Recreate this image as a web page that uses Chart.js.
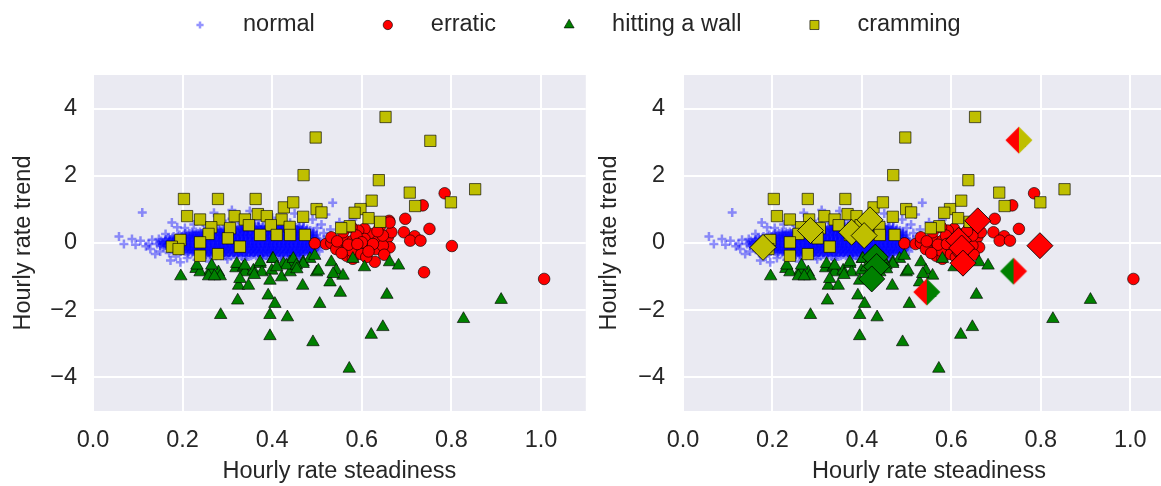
<!DOCTYPE html>
<html><head><meta charset="utf-8">
<script src="https://cdn.jsdelivr.net/npm/chart.js@4/dist/chart.umd.min.js"></script>
<style>
html,body{margin:0;padding:0;background:#fff;overflow:hidden;width:1161px;height:486px;}
#wrap{position:relative;width:1161px;height:486px;overflow:hidden;}
#c1{position:absolute;left:0;top:0;}
#c2{position:absolute;left:590px;top:0;}
</style></head><body>
<div id="wrap"><canvas id="c1" width="1161" height="486"></canvas><canvas id="c2" width="600" height="486"></canvas></div>
<script>
const seriesNames = ['normal', 'erratic', 'hitting a wall', 'cramming'];
const xTickValues = [0, 0.2, 0.4, 0.6, 0.8, 1.0];
const xTickLabels = ['0.0', '0.2', '0.4', '0.6', '0.8', '1.0'];
const yTickValues = [-4, -2, 0, 2, 4];
const yTickLabels = ['\u22124', '\u22122', '0', '2', '4'];
const xLabel = 'Hourly rate steadiness';
const yLabel = 'Hourly rate trend';

// "normal" dense band: one y level per row, with the x values read along it
const normalBandY = [0.50, 0.46, 0.42, 0.375, 0.33, 0.285, 0.24, 0.195, 0.15, 0.105, 0.06, 0.015, -0.03, -0.075, -0.12, -0.165, -0.21, -0.255, -0.30, -0.34, -0.38];
const normalBandX = [
  [0.331,0.342,0.350,0.361,0.369,0.380,0.389,0.398,0.410,0.418,0.429,0.437,0.448,0.459],
  [0.306,0.316,0.325,0.333,0.341,0.352,0.360,0.371,0.378,0.388,0.396,0.406,0.415,0.424,0.433,0.443,0.452,0.462,0.470],
  [0.281,0.290,0.301,0.309,0.318,0.329,0.337,0.346,0.357,0.365,0.374,0.385,0.393,0.402,0.413,0.421,0.430,0.441,0.449,0.458,0.469,0.478],
  [0.248,0.257,0.265,0.275,0.284,0.293,0.303,0.311,0.320,0.330,0.338,0.347,0.357,0.366,0.375,0.384,0.394,0.403,0.411,0.421,0.430,0.439,0.448,0.457,0.466,0.476,0.485],
  [0.221,0.230,0.239,0.250,0.258,0.267,0.278,0.286,0.295,0.306,0.314,0.323,0.334,0.342,0.351,0.362,0.370,0.379,0.390,0.398,0.407,0.418,0.426,0.435,0.446,0.454,0.463,0.474,0.482,0.491],
  [0.206,0.215,0.224,0.234,0.243,0.252,0.262,0.270,0.280,0.289,0.298,0.307,0.316,0.326,0.335,0.344,0.353,0.362,0.372,0.381,0.390,0.399,0.408,0.418,0.427,0.436,0.445,0.455,0.464,0.473,0.483,0.492],
  [0.193,0.202,0.210,0.221,0.229,0.238,0.247,0.256,0.266,0.274,0.283,0.292,0.301,0.311,0.319,0.328,0.337,0.346,0.356,0.364,0.373,0.382,0.391,0.401,0.409,0.418,0.427,0.436,0.446,0.454,0.463,0.472,0.481,0.491,0.499],
  [0.180,0.189,0.198,0.207,0.216,0.226,0.235,0.244,0.253,0.262,0.272,0.281,0.290,0.299,0.309,0.318,0.327,0.336,0.345,0.355,0.364,0.373,0.382,0.392,0.401,0.410,0.419,0.428,0.438,0.447,0.456,0.466,0.475,0.484,0.494],
  [0.168,0.177,0.186,0.196,0.205,0.214,0.223,0.232,0.242,0.251,0.260,0.269,0.278,0.288,0.297,0.306,0.315,0.324,0.334,0.343,0.352,0.361,0.370,0.380,0.389,0.398,0.407,0.416,0.426,0.435,0.444,0.453,0.462,0.472,0.481,0.490,0.500],
  [0.163,0.172,0.182,0.191,0.200,0.210,0.219,0.228,0.237,0.247,0.256,0.265,0.274,0.284,0.293,0.302,0.311,0.321,0.330,0.339,0.348,0.358,0.367,0.376,0.385,0.395,0.404,0.413,0.422,0.432,0.441,0.450,0.459,0.469,0.478,0.487,0.497],
  [0.152,0.161,0.171,0.180,0.189,0.199,0.208,0.217,0.226,0.236,0.245,0.254,0.263,0.273,0.282,0.291,0.300,0.310,0.319,0.328,0.337,0.347,0.356,0.365,0.374,0.384,0.393,0.402,0.411,0.421,0.430,0.439,0.448,0.458,0.467,0.476,0.485,0.495,0.503],
  [0.148,0.158,0.169,0.178,0.187,0.197,0.206,0.215,0.225,0.234,0.243,0.252,0.262,0.271,0.280,0.289,0.299,0.308,0.317,0.326,0.336,0.345,0.354,0.363,0.373,0.382,0.391,0.400,0.410,0.419,0.428,0.437,0.447,0.456,0.465,0.474,0.484,0.493,0.502],
  [0.143,0.155,0.165,0.174,0.183,0.193,0.202,0.211,0.220,0.230,0.239,0.248,0.257,0.267,0.276,0.285,0.294,0.304,0.313,0.322,0.331,0.341,0.350,0.359,0.368,0.378,0.387,0.396,0.405,0.415,0.424,0.433,0.442,0.452,0.461,0.470,0.479,0.489,0.498],
  [0.150,0.160,0.170,0.179,0.188,0.198,0.207,0.216,0.225,0.235,0.244,0.253,0.262,0.272,0.281,0.290,0.299,0.309,0.318,0.327,0.336,0.346,0.355,0.364,0.373,0.383,0.392,0.401,0.410,0.420,0.429,0.438,0.447,0.457,0.466,0.475,0.484,0.494],
  [0.157,0.167,0.176,0.186,0.195,0.204,0.213,0.223,0.232,0.241,0.250,0.260,0.269,0.278,0.287,0.297,0.306,0.315,0.324,0.334,0.343,0.352,0.361,0.371,0.380,0.389,0.398,0.408,0.417,0.426,0.435,0.445,0.454,0.463,0.472,0.482,0.491,0.500],
  [0.171,0.181,0.190,0.200,0.209,0.218,0.227,0.237,0.246,0.255,0.264,0.274,0.283,0.292,0.301,0.311,0.320,0.329,0.338,0.348,0.357,0.366,0.375,0.385,0.394,0.403,0.412,0.422,0.431,0.440,0.449,0.459,0.468,0.477,0.486,0.496],
  [0.181,0.190,0.199,0.209,0.218,0.227,0.236,0.246,0.255,0.264,0.273,0.283,0.292,0.301,0.310,0.320,0.329,0.338,0.347,0.357,0.366,0.375,0.384,0.394,0.403,0.412,0.421,0.431,0.440,0.449,0.458,0.468,0.477,0.486,0.495],
  [0.196,0.205,0.214,0.223,0.232,0.242,0.251,0.260,0.269,0.279,0.288,0.297,0.306,0.316,0.325,0.334,0.343,0.353,0.362,0.371,0.380,0.390,0.399,0.408,0.417,0.427,0.436,0.445,0.454,0.464,0.473,0.482,0.491],
  [0.212,0.221,0.231,0.240,0.249,0.258,0.268,0.277,0.286,0.295,0.305,0.314,0.323,0.332,0.342,0.351,0.360,0.369,0.379,0.388,0.397,0.406,0.416,0.425,0.434,0.443,0.453,0.462,0.471,0.480,0.489],
  [0.232,0.242,0.252,0.262,0.271,0.281,0.292,0.303,0.314,0.325,0.336,0.347,0.358,0.370,0.381,0.392,0.403,0.414,0.425,0.436,0.447,0.458,0.469],
  [0.253,0.264,0.275,0.286,0.297,0.309,0.320,0.331,0.342,0.353,0.364,0.376,0.387,0.398,0.409,0.420,0.431,0.442,0.453,0.462]
];
// "normal" sparse points around the band
const normalSparse = [
  [0.058,0.19],[0.069,-0.03],[0.087,0.12],[0.095,-0.05],[0.106,0.07],[0.110,0.91],[0.118,-0.10],[0.124,-0.03],
  [0.128,-0.18],[0.132,0.10],[0.139,-0.33],[0.147,0.12],[0.150,-0.25],[0.162,0.27],[0.170,-0.30],[0.173,-0.52],
  [0.176,0.61],[0.188,0.47],[0.185,-0.40],[0.195,-0.57],[0.205,0.45],[0.210,-0.45],[0.225,0.55],[0.232,-0.50],
  [0.245,0.62],[0.260,-0.55],[0.275,0.58],[0.290,0.66],[0.310,0.72],[0.330,0.62],[0.350,0.95],[0.370,0.68],
  [0.400,0.75],[0.420,0.62],[0.450,0.88],[0.470,0.65],[0.490,0.70],[0.500,0.45],[0.510,0.55],[0.520,0.85],
  [0.530,0.40],[0.500,1.05],[0.535,1.20],[0.515,0.30],[0.360,0.58],[0.440,0.60],[0.270,0.90],[0.310,0.98],
  [0.300,-0.48],[0.340,-0.50],[0.380,-0.47],[0.420,-0.50],[0.460,-0.45],[0.490,-0.38],[0.505,-0.25],[0.510,-0.10],
  [0.515,0.10],[0.550,0.62],[0.580,0.70]
];
const erratic = [
  [0.785,1.48],[0.736,1.12],[0.697,0.72],[0.751,0.42],[0.694,0.32],[0.718,0.20],[0.708,0.07],[0.731,0.07],
  [0.801,-0.09],[0.661,0.66],[0.629,-0.56],[0.739,-0.87],[1.007,-1.07],
  [0.495,-0.01],[0.520,-0.03],[0.532,0.00],[0.551,-0.13],[0.562,0.07],[0.580,0.07],[0.595,-0.13],[0.618,0.27],
  [0.606,0.42],[0.592,0.37],[0.636,0.07],[0.658,0.17],[0.662,-0.13],[0.618,-0.11],[0.640,0.47],[0.577,0.47],
  [0.558,0.32],[0.606,0.12],[0.566,-0.38],[0.580,-0.47],[0.543,-0.18],[0.577,-0.23],[0.599,-0.33],[0.632,-0.18],
  [0.647,-0.08],[0.666,0.32],[0.662,0.61],[0.532,0.17],[0.625,-0.03],[0.588,0.22],[0.647,0.22],[0.610,-0.42],
  [0.650,-0.35],[0.545,0.05],[0.570,-0.05],[0.600,0.02],[0.615,-0.25],[0.635,0.35],[0.590,-0.03],[0.555,-0.30]
];
const hittingWall = [
  [0.196,-0.99],[0.230,-0.77],[0.239,-0.87],[0.262,-0.82],[0.258,-0.99],[0.280,-0.87],[0.284,-0.99],[0.271,-0.99],
  [0.285,-2.14],[0.319,-0.75],[0.336,-0.72],[0.339,-0.87],[0.325,-1.27],[0.328,-1.07],[0.347,-1.27],[0.323,-1.71],
  [0.358,-0.82],[0.373,-0.62],[0.377,-0.87],[0.399,-0.82],[0.395,-1.12],[0.391,-1.56],[0.406,-1.81],[0.395,-2.14],
  [0.434,-2.21],[0.395,-2.77],[0.401,-0.47],[0.421,-1.02],[0.425,-0.62],[0.440,-0.57],[0.440,-0.87],[0.468,-1.27],
  [0.469,-0.57],[0.484,-0.47],[0.499,-0.87],[0.506,-1.81],[0.491,-2.95],[0.529,-1.17],[0.532,-0.57],[0.543,-0.82],
  [0.558,-0.97],[0.552,-1.48],[0.580,-0.47],[0.606,-0.72],[0.662,-0.57],[0.682,-0.67],[0.656,-1.54],[0.621,-2.73],
  [0.647,-2.50],[0.572,-3.74],[0.827,-2.26],[0.911,-1.69],[0.232,-0.67],[0.265,-0.67],[0.321,-0.62],[0.339,-0.67],
  [0.373,-0.57],[0.402,-0.47],[0.432,-0.67],[0.447,-0.47],[0.495,-0.38],[0.469,-0.62],[0.454,-0.67],[0.536,-0.92],
  [0.503,-0.82],[0.360,-0.95],[0.410,-0.72],[0.455,-0.78]
];
const cramming = [
  [0.497,3.14],[0.470,2.02],[0.653,3.75],[0.753,3.04],[0.638,1.87],[0.707,1.50],[0.853,1.60],[0.799,1.21],
  [0.719,1.10],[0.622,1.26],[0.597,1.01],[0.584,0.90],[0.615,0.74],[0.641,0.63],[0.573,0.50],[0.554,0.44],
  [0.203,1.31],[0.279,1.31],[0.363,1.31],[0.210,0.80],[0.239,0.70],[0.282,0.70],[0.316,0.80],[0.339,0.70],
  [0.368,0.86],[0.388,0.80],[0.421,0.70],[0.426,1.06],[0.447,1.21],[0.264,0.47],[0.306,0.44],[0.348,0.53],
  [0.397,0.53],[0.439,0.48],[0.258,0.27],[0.301,0.14],[0.373,0.24],[0.410,0.24],[0.440,0.24],[0.195,0.09],
  [0.239,0.02],[0.328,-0.11],[0.176,-0.11],[0.191,-0.18],[0.239,-0.38],[0.279,-0.33],[0.499,1.01],[0.510,0.91],
  [0.469,0.78],[0.473,0.24]
];
// right panel only: large centroid diamonds
const centroidYellow = [[0.179,-0.13],[0.285,0.37],[0.377,0.32],[0.418,0.69],[0.405,0.22]];
const centroidRed = [[0.659,0.66],[0.616,0.08],[0.623,-0.15],[0.626,-0.60],[0.798,-0.08]];
const centroidGreen = [[0.430,-0.42],[0.433,-0.70],[0.422,-1.07]];
const splitRedYellow = [[0.751,3.06]];
const splitRedGreen = [[0.545,-1.46]];
const splitGreenRed = [[0.739,-0.84]];

const FAMILY = "'Liberation Sans', Arial, sans-serif";
const FS = 23.5;
const TEXT = '#262626';
const BLUE = 'rgba(0,0,255,0.42)';
const RED = '#ff0000', GREEN = '#008000', YELLOW = '#bfbf00';
const EDGE = 'rgba(0,0,0,0.8)';

Chart.defaults.font.family = FAMILY;
Chart.defaults.font.size = FS;
Chart.defaults.color = TEXT;

const toXY = arr => arr.map(p => ({x: p[0], y: p[1]}));
const normalAll = [];
normalBandY.forEach((y, i) => normalBandX[i].forEach(x => normalAll.push([x, y])));
normalSparse.forEach(p => normalAll.push(p));

function splitDiamond(cl, cr) {
  const s = 30, c = s / 2, h = 13.5;
  const cv = document.createElement('canvas'); cv.width = s; cv.height = s;
  const g = cv.getContext('2d');
  g.fillStyle = cl; g.beginPath(); g.moveTo(c - h, c); g.lineTo(c, c - h); g.lineTo(c, c + h); g.closePath(); g.fill();
  g.fillStyle = cr; g.beginPath(); g.moveTo(c, c - h); g.lineTo(c + h, c); g.lineTo(c, c + h); g.closePath(); g.fill();
  return cv;
}

const styles = [
  {pointStyle: 'cross', pointRadius: 4.5, pointBackgroundColor: BLUE, pointBorderColor: BLUE, pointBorderWidth: 2.5},
  {pointStyle: 'circle', pointRadius: 5.8, pointBackgroundColor: RED, pointBorderColor: EDGE, pointBorderWidth: 0.8},
  {pointStyle: 'triangle', pointRadius: 7.2, pointBackgroundColor: GREEN, pointBorderColor: EDGE, pointBorderWidth: 0.8},
  {pointStyle: 'rect', pointRadius: 8, pointBackgroundColor: YELLOW, pointBorderColor: EDGE, pointBorderWidth: 0.8}
];

function baseDatasets() {
  const data = [normalAll, erratic, hittingWall, cramming];
  return data.map((d, i) => Object.assign({label: seriesNames[i], data: toXY(d), order: 10 - i,
    pointHoverRadius: styles[i].pointRadius}, styles[i]));
}

function diamond(d, color, order) {
  return {label: '', data: toXY(d), pointStyle: 'rectRot', pointRadius: 13, pointHoverRadius: 13,
    pointBackgroundColor: color, pointBorderColor: 'rgba(0,0,0,0.85)', pointBorderWidth: 1, order};
}
function split(d, cl, cr) {
  return {label: '', data: toXY(d), pointStyle: splitDiamond(cl, cr), pointRadius: 14, order: 0};
}

const bgPlugin = {
  id: 'bg',
  beforeDraw(chart) {
    const {ctx, chartArea: a} = chart;
    ctx.save(); ctx.fillStyle = '#EAEAF2';
    ctx.fillRect(a.left, a.top, a.right - a.left, a.bottom - a.top);
    ctx.restore();
  }
};

const legendPlugin = {
  id: 'topLegend',
  afterDraw(chart) {
    const ctx = chart.ctx;
    ctx.save();
    let x = 200; const y = 25;
    seriesNames.forEach((name, i) => {
      const st = styles[i];
      ctx.fillStyle = st.pointBackgroundColor; ctx.strokeStyle = st.pointBorderColor; ctx.lineWidth = st.pointBorderWidth;
      Chart.helpers.drawPoint(ctx, {pointStyle: st.pointStyle, radius: st.pointRadius * 0.8, borderWidth: st.pointBorderWidth, rotation: 0}, x, y);
      ctx.font = FS + 'px ' + FAMILY;
      ctx.fillStyle = TEXT; ctx.textBaseline = 'middle'; ctx.textAlign = 'left';
      ctx.fillText(name, x + 43, y);
      x = x + 43 + ctx.measureText(name).width + 73;
    });
    ctx.restore();
  }
};

function makeOptions(canvasW, yTitlePad, yTickPad) {
  return {
    responsive: false, animation: false, devicePixelRatio: 1, events: [],
    layout: {padding: {left: 0, top: 75, right: canvasW - 585.8, bottom: 0}},
    plugins: {legend: {display: false}, tooltip: {enabled: false}},
    scales: {
      x: {
        type: 'linear', min: 0, max: 1.1,
        afterBuildTicks: ax => { ax.ticks = xTickValues.map(v => ({value: v})); },
        afterFit: s => { s.height = 75; },
        ticks: {callback: v => xTickLabels[xTickValues.indexOf(v)], padding: 15, color: TEXT, maxRotation: 0, autoSkip: false},
        grid: {color: '#ffffff', lineWidth: 2, drawTicks: false},
        border: {display: false},
        title: {display: true, text: xLabel, color: TEXT, padding: {top: 0, bottom: 0}}
      },
      y: {
        type: 'linear', min: -5, max: 5,
        afterBuildTicks: ax => { ax.ticks = yTickValues.map(v => ({value: v})); },
        afterFit: s => { s.width = 93; },
        ticks: {callback: v => yTickLabels[yTickValues.indexOf(v)], padding: yTickPad, color: TEXT, autoSkip: false},
        grid: {color: '#ffffff', lineWidth: 2, drawTicks: false},
        border: {display: false},
        title: {display: true, text: yLabel, color: TEXT, padding: {top: yTitlePad, bottom: 0}}
      }
    }
  };
}

new Chart(document.getElementById('c1'), {
  type: 'scatter',
  data: {datasets: baseDatasets()},
  options: makeOptions(1161, 9, 16),
  plugins: [bgPlugin, legendPlugin]
});

const rightSets = baseDatasets().concat([
  diamond(centroidYellow, YELLOW, 1),
  diamond(centroidRed, RED, 1),
  diamond(centroidGreen, GREEN, 1),
  split(splitRedYellow, RED, YELLOW),
  split(splitRedGreen, RED, GREEN),
  split(splitGreenRed, GREEN, RED)
]);
new Chart(document.getElementById('c2'), {
  type: 'scatter',
  data: {datasets: rightSets},
  options: makeOptions(600, 5, 18),
  plugins: [bgPlugin]
});
</script>
</body></html>
